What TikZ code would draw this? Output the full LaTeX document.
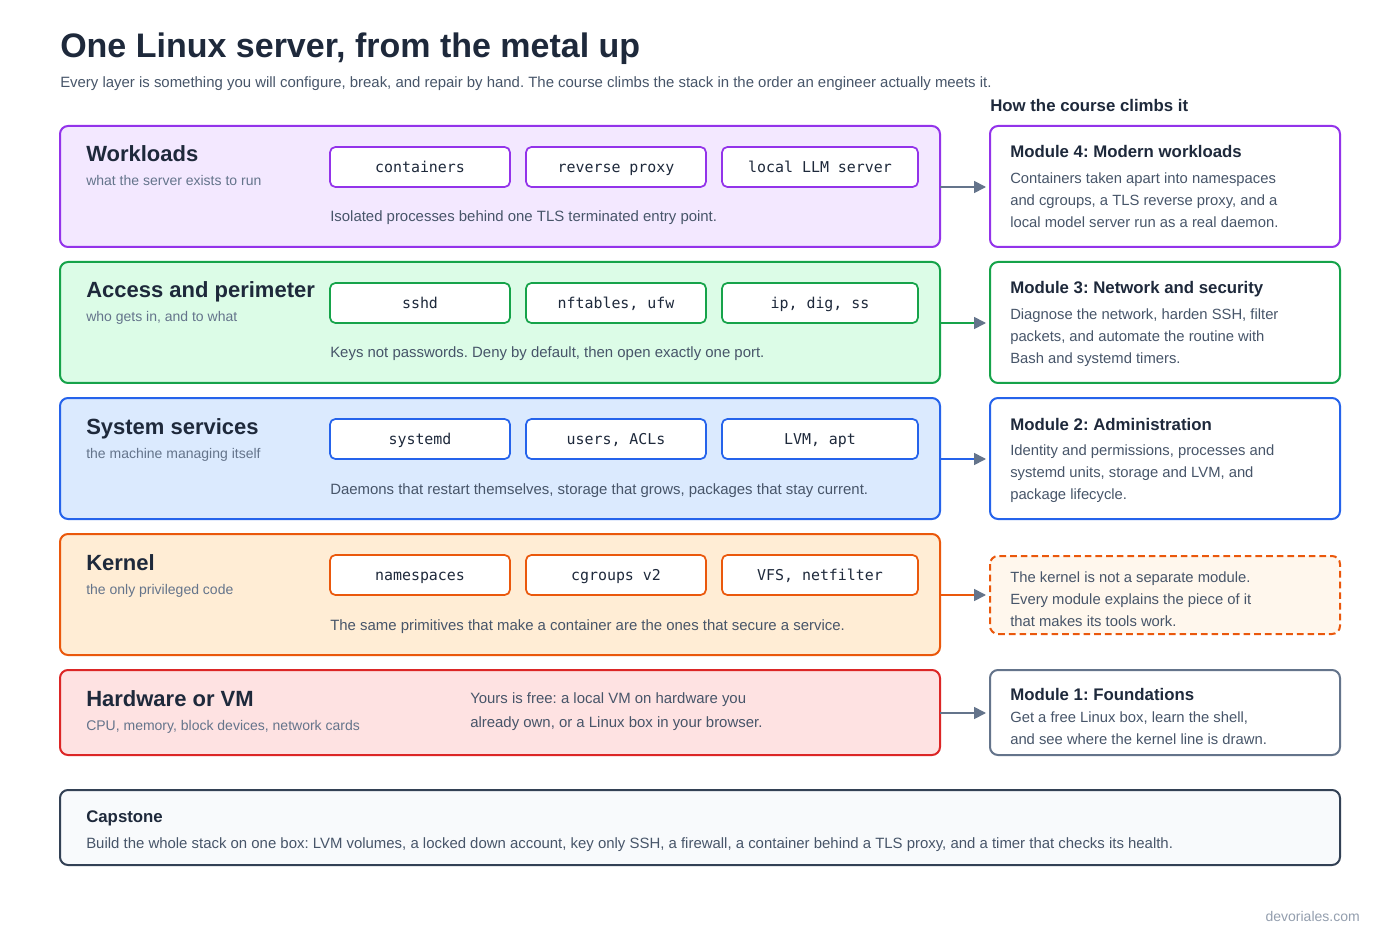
\documentclass[tikz,border=0pt]{standalone}
\usepackage{fontspec}
\setmainfont{Liberation Sans}
\newfontfamily\monof{DejaVu Sans Mono}
\usetikzlibrary{arrows.meta}
\frenchspacing
\definecolor{ink}{HTML}{1E293B}
\definecolor{sub}{HTML}{475569}
\definecolor{mut}{HTML}{64748B}
\definecolor{pu}{HTML}{9333EA}\definecolor{puf}{HTML}{F3E8FF}
\definecolor{gr}{HTML}{16A34A}\definecolor{grf}{HTML}{DCFCE7}
\definecolor{bl}{HTML}{2563EB}\definecolor{blf}{HTML}{DBEAFE}
\definecolor{or}{HTML}{EA580C}\definecolor{orf}{HTML}{FFEDD5}\definecolor{orl}{HTML}{FFF7ED}
\definecolor{re}{HTML}{DC2626}\definecolor{ref}{HTML}{FEE2E2}
\definecolor{cap}{HTML}{334155}\definecolor{capf}{HTML}{F8FAFC}
\begin{document}
\begin{tikzpicture}[x=0.75pt,y=-0.75pt,every node/.style={inner sep=0pt},
 layer/.style={draw=#1,line width=1.5pt,rounded corners=6pt},
 chip/.style={draw=#1,fill=white,line width=1.3pt,rounded corners=4pt,minimum width=135pt,minimum height=30pt,text height=10pt,text depth=2pt,font=\monof\fontsize{11.2}{13}\selectfont,text=ink},
 ttl/.style={anchor=base west,font=\bfseries\fontsize{16.5}{18}\selectfont,text=ink},
 st/.style={anchor=base west,font=\fontsize{10.5}{12}\selectfont,text=mut},
 desc/.style={anchor=base west,font=\fontsize{11.2}{13}\selectfont,text=sub},
 mtl/.style={anchor=base west,font=\bfseries\fontsize{12.6}{14}\selectfont,text=ink},
 mtx/.style={anchor=north west,align=left,font=\fontsize{11.1}{16.5}\selectfont,text=sub},
 arr/.style={draw=#1,line width=1.3pt,-{Triangle[length=9pt,width=9pt,color=mut]}}]
\useasboundingbox[fill=white] (0,0) rectangle (1400,934);
\node[anchor=base west,font=\bfseries\fontsize{25.5}{28}\selectfont,text=ink] (title) at (60,58) {One Linux server, from the metal up};
\node[anchor=base west,font=\fontsize{11.2}{13}\selectfont,text=sub] (subt) at (60,88) {Every layer is something you will configure, break, and repair by hand. The course climbs the stack in the order an engineer actually meets it.};
\node[anchor=base west,font=\bfseries\fontsize{12.6}{14}\selectfont,text=ink] (hc) at (990,112) {How the course climbs it};
% layers
\def\lay#1#2#3#4#5#6#7#8#9{%
 \draw[layer=#1,fill=#2] (60,#3) rectangle (940,#3+121);
 \node[ttl] (t#9) at (86,#3+36) {#4};
 \node[st] (s#9) at (86,#3+60) {#5};
 \node[chip=#1] (a#9) at (420,#3+41) {#6};
 \node[chip=#1] (b#9) at (616,#3+41) {#7};
 \node[chip=#1,minimum width=147pt] (c#9) at (820,#3+41) {#8};}
\lay{pu}{puf}{126}{Workloads}{what the server exists to run}{containers}{reverse proxy}{local LLM server}{w}
\node[desc] (dw) at (330,222) {Isolated processes behind one TLS terminated entry point.};
\lay{gr}{grf}{262}{Access and perimeter}{who gets in, and to what}{sshd}{nftables, ufw}{ip, dig, ss}{p}
\node[desc] (dp) at (330,358) {Keys not passwords. Deny by default, then open exactly one port.};
\lay{bl}{blf}{398}{System services}{the machine managing itself}{systemd}{users, ACLs}{LVM, apt}{s}
\node[desc] (ds) at (330,494) {Daemons that restart themselves, storage that grows, packages that stay current.};
\lay{or}{orf}{534}{Kernel}{the only privileged code}{namespaces}{cgroups v2}{VFS, netfilter}{k}
\node[desc] (dk) at (330,630) {The same primitives that make a container are the ones that secure a service.};
\draw[layer=re,fill=ref] (60,670) rectangle (940,755);
\node[ttl] (th) at (86,706) {Hardware or VM};
\node[st] (sh) at (86,730) {CPU, memory, block devices, network cards};
\node[mtx,font=\fontsize{11.2}{18}\selectfont] (dh) at (470,692) {Yours is free: a local VM on hardware you\\already own, or a Linux box in your browser.};
% modules
\draw[layer=pu,fill=white] (990,126) rectangle (1340,247);
\node[mtl] (m4) at (1010,158) {Module 4: Modern workloads};
\node[mtx] (x4) at (1010,173) {Containers taken apart into namespaces\\and cgroups, a TLS reverse proxy, and a\\local model server run as a real daemon.};
\draw[layer=gr,fill=white] (990,262) rectangle (1340,383);
\node[mtl] (m3) at (1010,294) {Module 3: Network and security};
\node[mtx] (x3) at (1010,309) {Diagnose the network, harden SSH, filter\\packets, and automate the routine with\\Bash and systemd timers.};
\draw[layer=bl,fill=white] (990,398) rectangle (1340,519);
\node[mtl] (m2) at (1010,430) {Module 2: Administration};
\node[mtx] (x2) at (1010,445) {Identity and permissions, processes and\\systemd units, storage and LVM, and\\package lifecycle.};
\draw[layer=or,fill=orl,dash pattern=on 5pt off 3pt] (990,556) rectangle (1340,634);
\node[mtx] (xk) at (1010,572) {The kernel is not a separate module.\\Every module explains the piece of it\\that makes its tools work.};
\draw[layer=mut,fill=white] (990,670) rectangle (1340,755);
\node[mtl] (m1) at (1010,700) {Module 1: Foundations};
\node[mtx] (x1) at (1010,712) {Get a free Linux box, learn the shell,\\and see where the kernel line is drawn.};
% arrows
\coordinate (l4) at (940,187); \coordinate (r4) at (986,187);
\coordinate (l3) at (940,323); \coordinate (r3) at (986,323);
\coordinate (l2) at (940,459); \coordinate (r2) at (986,459);
\coordinate (lk) at (940,595); \coordinate (rk) at (986,595);
\coordinate (l1) at (940,713); \coordinate (r1) at (986,713);
\draw[arr=mut] (l4) -- (r4);
\draw[arr=gr] (l3) -- (r3);
\draw[arr=bl] (l2) -- (r2);
\draw[arr=or] (lk) -- (rk);
\draw[arr=mut] (l1) -- (r1);
% capstone
\draw[layer=cap,fill=capf] (60,790) rectangle (1340,865);
\node[mtl] (ct) at (86,822) {Capstone};
\node[desc] (cd) at (86,848) {Build the whole stack on one box: LVM volumes, a locked down account, key only SSH, a firewall, a container behind a TLS proxy, and a timer that checks its health.};
\node[anchor=base east,font=\fontsize{10.5}{12}\selectfont,text=mut!70] (wm) at (1360,921) {devoriales.com};
\end{tikzpicture}
\end{document}
